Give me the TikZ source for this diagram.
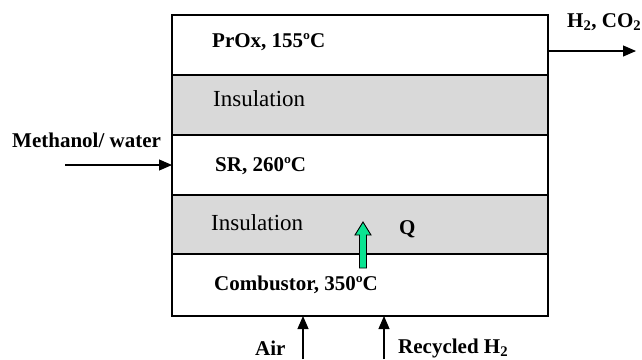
\documentclass[tikz,border=0pt]{standalone}
\usepackage{fontspec}
\setmainfont{Liberation Serif}
\usetikzlibrary{arrows.meta}
\definecolor{qgreen}{RGB}{10,228,145}
\tikzset{
  layer/.style={draw=black, line width=1.1pt, minimum width=376pt, inner sep=0pt, outer sep=0pt},
  insul/.style={layer, fill=gray!30},
  lbl/.style={font=\fontsize{21}{23}\selectfont\bfseries, inner sep=0pt, anchor=base west},
  ilbl/.style={font=\fontsize{23}{25}\selectfont, inner sep=0pt, anchor=base west},
  flow/.style={line width=1.1pt, -{Triangle[length=13pt,width=11pt]}}
}
\begin{document}
\begin{tikzpicture}[x=1pt,y=-1pt]
\useasboundingbox (0,0) rectangle (642,359);
% layers
\node[layer, minimum height=60pt] (prox) at (360,45) {};
\node[insul, minimum height=60pt] (ins1) at (360,105) {};
\node[layer, minimum height=60pt] (sr) at (360,165) {};
\node[insul, minimum height=59pt] (ins2) at (360,224.5) {};
\node[layer, minimum height=62pt] (comb) at (360,285) {};
\draw[line width=1.3pt] (prox.north west) rectangle (comb.south east);
% labels
\node[lbl] (tprox) at (212,47) {PrOx, 155ºC};
\node[ilbl] (tins1) at (213,106) {Insulation};
\node[lbl] (tsr) at (215,171) {SR, 260ºC};
\node[ilbl] (tins2) at (211,230) {Insulation};
\node[lbl] (tcomb) at (214,290) {Combustor, 350ºC};
\node[lbl] (tq) at (399,234) {Q};
% heat arrow
\draw[fill=qgreen, line width=0.9pt, line join=miter]
  (359.5,268) -- (359.5,235) -- (355,235) -- (363,222) -- (371,235) -- (366.5,235) -- (366.5,268) -- cycle;
% inputs/outputs
\coordinate (mstart) at (65,165);
\node[lbl] (tmeth) at (12,147) {Methanol/ water};
\draw[flow] (mstart) -- (sr.west);
\coordinate (oend) at (636,51);
\draw[flow] (prox.east |- oend) -- (oend);
\node[lbl] (th2) at (567,27) {H\textsubscript{2}, CO\textsubscript{2}};
\coordinate (airb) at (303,359);
\draw[flow] (airb) -- (airb |- comb.south);
\node[lbl] (tair) at (255,355) {Air};
\coordinate (recb) at (384,359);
\draw[flow] (recb) -- (recb |- comb.south);
\node[lbl] (trec) at (398,353) {Recycled H\textsubscript{2}};
\end{tikzpicture}
\end{document}
